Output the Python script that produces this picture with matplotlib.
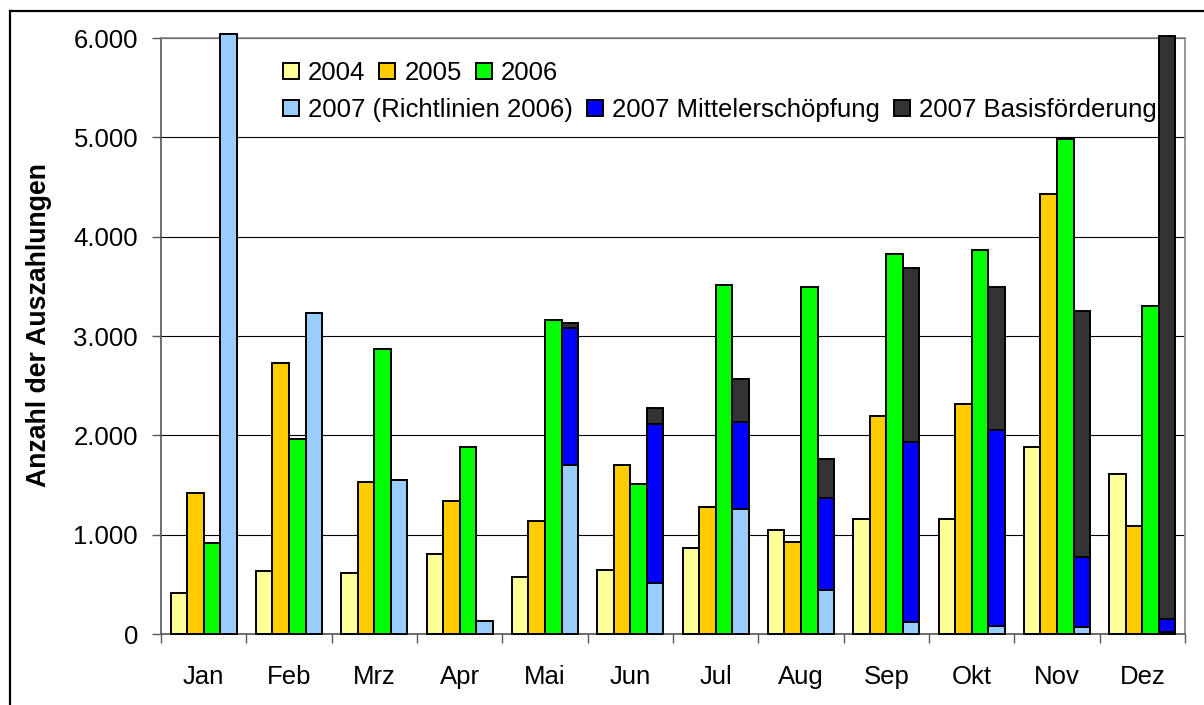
import matplotlib
matplotlib.use("Agg")
import matplotlib.pyplot as plt
import numpy as np
from matplotlib.patches import Patch
from matplotlib.lines import Line2D
from matplotlib.ticker import FuncFormatter, FixedLocator

plt.rcParams['font.family'] = ['Liberation Sans', 'DejaVu Sans']

# Daten (Auszahlungen pro Monat)
monate = ["Jan", "Feb", "Mrz", "Apr", "Mai", "Jun", "Jul", "Aug", "Sep", "Okt", "Nov", "Dez"]
j2004 = [410, 637, 618, 805, 578, 641, 869, 1052, 1155, 1155, 1880, 1610]
j2005 = [1422, 2729, 1530, 1343, 1135, 1697, 1279, 928, 2191, 2315, 4430, 1092]
j2006 = [920, 1964, 2873, 1880, 3159, 1506, 3514, 3494, 3825, 3869, 4984, 3307]
j2007_rl = [6040, 3231, 1554, 127, 1697, 518, 1263, 438, 124, 84, 72, 22]
j2007_mittel = [0, 0, 0, 0, 1383, 1597, 868, 929, 1804, 1968, 705, 131]
j2007_basis = [0, 0, 0, 0, 47, 164, 439, 398, 1757, 1446, 2478, 5869]

farben = {
    "2004": "#FFFF99",
    "2005": "#FFCC00",
    "2006": "#00FF00",
    "2007 (Richtlinien 2006)": "#99CCFF",
    "2007 Mittelerschöpfung": "#0000FF",
    "2007 Basisförderung": "#333333",
}

W, H = 1204, 705
fs = 18.5
fig = plt.figure(figsize=(W / 100, H / 100), dpi=100)
ax = fig.add_axes([161 / W, 1 - 634 / H, (1185 - 161) / W, (634 - 38) / H])

x = np.arange(len(monate))
w = 0.1935
kw = dict(width=w, edgecolor="black", linewidth=1.4, clip_on=False, zorder=3)

ax.bar(x - 1.5 * w, j2004, color=farben["2004"], **kw)
ax.bar(x - 0.5 * w, j2005, color=farben["2005"], **kw)
ax.bar(x + 0.5 * w, j2006, color=farben["2006"], **kw)

# 2007 gestapelt
rl = np.array(j2007_rl)
mi = np.array(j2007_mittel)
ba = np.array(j2007_basis)
ax.bar(x + 1.5 * w, rl, color=farben["2007 (Richtlinien 2006)"], **kw)
ax.bar(x + 1.5 * w, mi, bottom=rl, color=farben["2007 Mittelerschöpfung"], **kw)
ax.bar(x + 1.5 * w, ba, bottom=rl + mi, color=farben["2007 Basisförderung"], **kw)

ax.set_xlim(-0.5, len(monate) - 0.5)
ax.set_ylim(0, 6000)
ax.set_yticks(np.arange(0, 6001, 1000))
ax.yaxis.set_major_formatter(FuncFormatter(lambda v, p: f"{int(v):,}".replace(",", ".")))
ax.grid(axis="y", color="black", linewidth=0.8, zorder=0)
ax.set_axisbelow(True)

# Monatsgrenzen als Ticks, Namen in der Mitte
ax.xaxis.set_major_locator(FixedLocator(np.arange(-0.5, len(monate), 1.0)))
ax.xaxis.set_minor_locator(FixedLocator(x))
ax.set_xticklabels([])
ax.set_xticklabels(monate, minor=True)
ax.tick_params(axis="x", which="major", length=6.5, width=1, color="#555555")
ax.tick_params(axis="x", which="minor", length=0, pad=22, labelsize=fs)
ax.tick_params(axis="y", length=6.5, width=1, color="#555555", pad=10, labelsize=fs)

for s in ["left", "bottom"]:
    ax.spines[s].set_color("#555555")
    ax.spines[s].set_linewidth(1.2)
for s in ["top", "right"]:
    ax.spines[s].set_color("#888888")
    ax.spines[s].set_linewidth(1.2)

ax.set_ylabel("Anzahl der Auszahlungen", fontsize=19.2, fontweight="bold")
ax.yaxis.set_label_coords((52 - 161) / (1185 - 161), (634 - 325) / (634 - 38))

# Legende in zwei Zeilen
def handles(namen):
    return [Patch(facecolor=farben[n], edgecolor="black", linewidth=1.4, label=n) for n in namen]

leg_opts = dict(frameon=False, fontsize=fs, ncol=3, borderpad=0, borderaxespad=0,
                handlelength=0.62, handleheight=0.55, handletextpad=0.35, columnspacing=0.55,
                loc="center left")
leg1 = fig.legend(handles=handles(["2004", "2005", "2006"]),
                  bbox_to_anchor=(283 / W, 1 - 73 / H), **leg_opts)
leg2 = fig.legend(handles=handles(["2007 (Richtlinien 2006)", "2007 Mittelerschöpfung", "2007 Basisförderung"]),
                  bbox_to_anchor=(283 / W, 1 - 110 / H), **leg_opts)

# Rahmen (links und oben)
fig.add_artist(Line2D([10 / W, 10 / W], [0, 1 - 11 / H], color="black", linewidth=1.6))
fig.add_artist(Line2D([10 / W, 1], [1 - 11 / H, 1 - 11 / H], color="black", linewidth=1.6))

fig.savefig("out.png", dpi=100)
